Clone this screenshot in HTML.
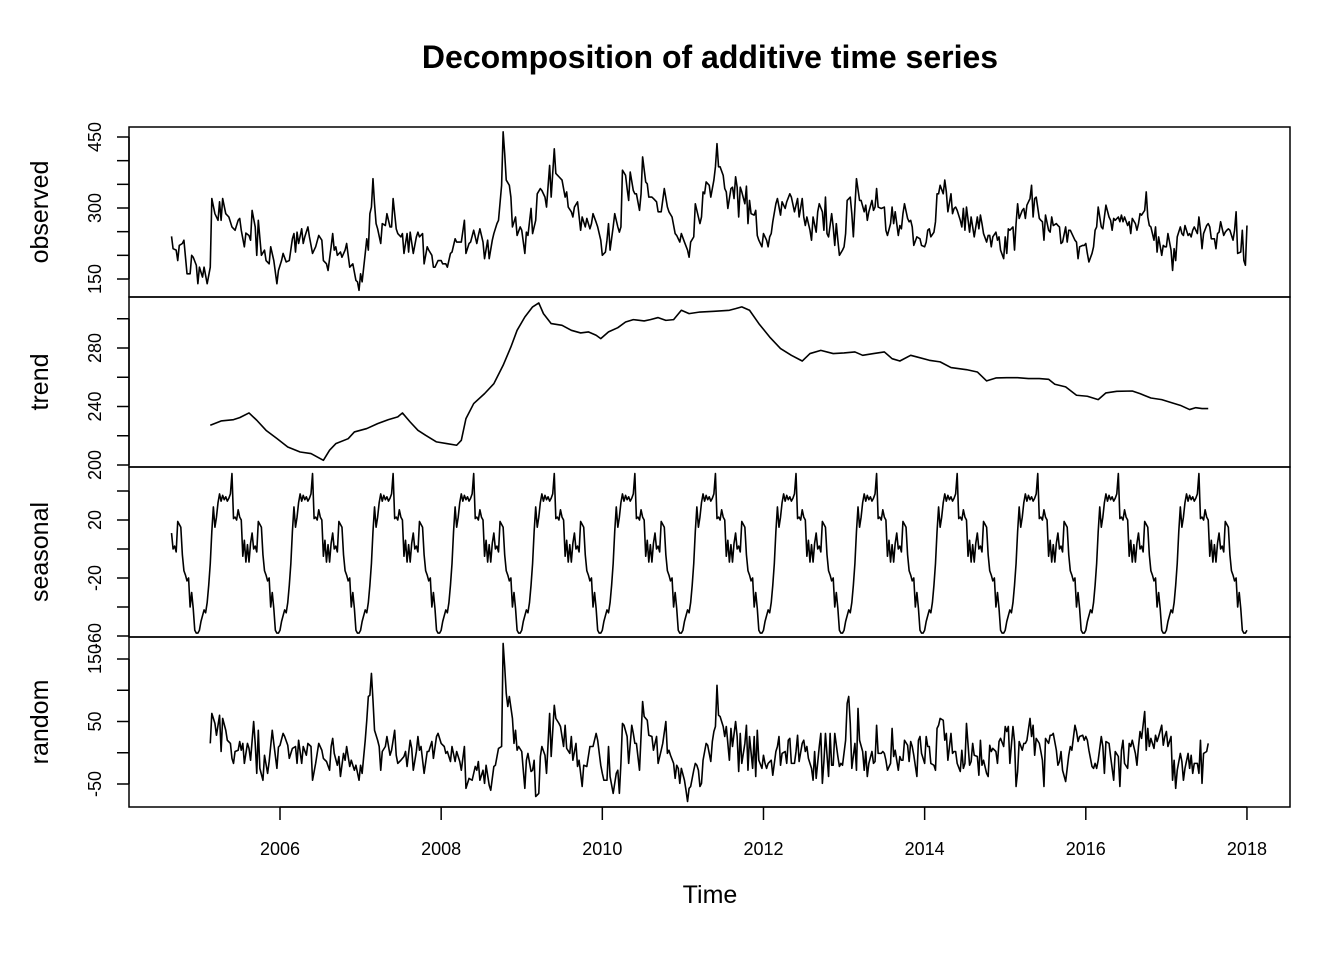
<!DOCTYPE html>
<html><head><meta charset="utf-8"><title>Decomposition of additive time series</title>
<style>html,body{margin:0;padding:0;background:#fff}svg{display:block}text{font-family:"Liberation Sans",Arial,sans-serif;fill:#000}</style>
</head><body>
<svg id="chart" width="1344" height="960" viewBox="0 0 1344 960" xmlns="http://www.w3.org/2000/svg">
<rect x="0" y="0" width="1344" height="960" fill="#fff"/>
<text x="710" y="68" text-anchor="middle" font-size="32" font-weight="bold">Decomposition of additive time series</text>
<text x="710" y="903" text-anchor="middle" font-size="25">Time</text>
<g id="layer"></g>
</svg>
<script>
// Time: weekly series (frequency 52) starting at week 34 of 2004
const startYear = 2004, startWeekOfYear = 34, nObserved = 695;
const xTicks = [2006, 2008, 2010, 2012, 2014, 2016, 2018];

const obsWeek = [0,1,3,4,5,7,8,10,12,13,14,16,17,18,20,21,23,25,26,28,30,31,32,33,35,37,39,41,43,44,45,47,48,50,51,52,54,55,56,58,60,61,63,64,66,68,69,71,72,74,76,78,79,80,81,82,84,85,86,88,89,91,93,95,97,98,100,101,103,104,105,106,107,109,110,112,113,115,117,119,120,121,122,123,125,126,127,128,129,130,131,132,133,135,136,138,139,141,142,143,145,146,148,149,150,152,153,154,156,158,159,160,162,163,165,166,168,169,170,172,174,175,177,178,180,181,183,184,185,187,189,190,192,193,195,197,198,199,201,202,204,205,207,208,210,211,213,214,215,216,218,219,220,222,223,225,226,228,229,230,232,233,235,236,238,239,241,242,244,245,247,248,250,252,254,255,256,258,259,260,262,264,265,267,268,270,271,272,274,275,277,278,280,281,282,283,285,286,288,289,290,291,293,294,295,296,298,299,300,302,303,304,306,307,308,310,311,313,314,316,318,320,321,323,325,326,328,329,331,333,334,335,337,338,339,
341,342,343,344,345,347,348,350,351,352,353,354,356,357,358,359,361,362,363,364,365,366,367,368,370,371,372,373,374,376,377,378,379,381,382,384,385,386,387,388,390,391,393,394,396,397,399,400,402,404,405,407,408,409,410,412,413,414,416,417,418,420,421,422,423,424,426,427,428,429,430,431,433,434,435,436,438,439,440,441,442,444,445,447,448,449,450,452,453,454,455,456,458,460,461,462,464,465,466,467,469,470,471,472,473,475,476,477,478,479,481,483,484,486,487,488,489,490,492,493,494,495,496,498,499,500,501,503,504,505,506,507,509,510,511,512,513,515,516,517,518,520,521,522,523,524,526,527,528,529,530,532,533,534,535,537,538,539,540,541,543,544,545,546,547,549,550,551,552,554,555,556,557,558,560,561,562,563,564,566,567,568,569,571,572,573,574,575,577,578,579,580,581,583,584,585,586,588,589,590,591,592,594,595,596,597,598,600,601,602,603,605,606,607,608,609,611,612,613,614,615,617,618,619,620,622,623,624,625,626,628,629,630,631,632,634,635,636,637,639,640,641,642,643,645,646,647,648,649,651,652,653,654,656,657,658,659,660,662,663,664,665,666,668,669,670,671,673,674,675,676,677,679,680,681,682,683,685,686,687,688,690,691,692,693,694];
const obsValue = [240,214,211,189,221,225,232,161,161,200,196,179,140,175,154,175,140,175,320,288,274,313,274,320,288,281,260,253,274,278,253,218,247,242,232,295,260,200,274,200,211,189,182,218,189,140,168,189,204,186,189,235,246,207,249,225,256,225,239,260,239,204,218,242,232,189,182,168,218,246,211,218,200,207,196,211,225,175,182,147,144,126,161,144,204,235,211,288,302,362,309,267,256,225,267,263,288,260,260,320,256,246,239,246,204,246,207,249,204,239,249,239,246,182,218,211,200,175,175,189,189,182,182,175,204,207,235,228,228,228,274,204,225,228,253,225,242,256,228,193,232,193,232,246,267,274,348,461,415,359,348,323,260,281,242,260,253,204,249,242,299,246,274,330,341,337,323,302,390,323,425,373,366,359,323,334,302,292,281,302,313,253,281,260,278,256,267,288,270,260,232,200,207,232,267,211,260,288,260,249,260,380,369,341,316,376,337,330,330,295,330,408,355,351,323,323,320,313,292,292,341,302,292,281,246,242,228,246,228,211,196,228,239,309,295,
267,281,334,330,355,348,323,359,387,436,387,387,369,341,334,299,341,344,320,366,344,281,344,334,309,346,267,316,288,285,295,242,232,218,246,232,218,239,246,271,309,320,285,313,299,313,330,323,292,320,281,320,281,263,281,253,232,281,249,292,309,292,253,323,246,239,288,260,221,267,232,200,211,218,246,316,323,288,239,302,362,316,316,292,306,274,292,316,295,302,341,302,299,302,253,242,267,302,267,292,242,263,256,288,309,278,271,274,260,221,239,235,221,218,228,253,256,239,249,271,330,330,348,330,359,334,292,330,288,299,302,295,274,260,299,253,302,249,281,260,239,281,256,285,267,246,228,242,242,218,239,249,232,239,211,193,239,204,256,253,260,211,267,309,278,295,299,278,306,320,348,281,320,323,278,274,271,232,285,253,249,281,263,267,263,260,225,228,260,228,253,253,246,232,228,193,218,221,221,225,204,186,204,218,253,260,302,260,256,281,306,281,274,253,278,274,281,271,285,271,281,263,271,246,278,267,253,267,288,285,295,334,281,263,260,232,260,207,239,200,221,218,218,246,211,168,214,189,239,260,246,242,263,242,246,239,253,260,246,281,253,214,246,263,267,260,235,235,214,246,249,271,242,249,253,256,253,232,253,292,204,207,253,189,179,263];

const trendWeek = [25,32,40,44,50,55,61,68,75,83,90,98,102,106,114,118,126,133,140,146,149,154,159,164,171,178,184,187,190,195,202,208,214,219,223,228,233,237,240,245,252,258,264,269,274,277,282,288,293,298,305,309,314,319,324,329,334,341,350,360,364,368,373,379,386,393,400,407,412,419,427,434,441,446,453,460,465,470,477,481,489,496,503,513,520,526,532,539,546,553,560,566,570,577,584,591,598,603,610,620,625,632,639,646,651,657,661,665,669];
const trendValue = [227.2,230.1,231.0,232.4,235.6,230.6,223.7,218.1,212.3,208.9,207.8,203.2,210.1,214.6,218.0,222.6,224.9,228.3,231.0,232.9,235.6,229.4,223.7,220.3,215.8,214.6,213.5,216.9,231.7,242.0,248.8,255.6,268.2,280.7,292.1,301.2,308.1,310.8,303.5,296.7,295.5,292.1,290.3,291.0,288.7,286.4,291.0,293.9,297.8,299.4,298.5,299.4,300.8,298.9,299.4,305.8,303.5,304.6,305.1,305.8,306.9,308.1,305.8,296.7,287.5,279.6,275.0,271.1,276.2,278.4,276.2,276.6,277.3,275.0,276.2,277.3,272.7,271.1,275.0,273.9,271.6,270.5,266.6,265.2,263.6,257.5,259.5,259.7,259.7,259.1,259.1,258.6,255.2,253.4,247.7,247.0,244.7,249.3,250.4,250.6,248.8,245.8,244.7,242.4,240.8,237.9,239.2,238.6,238.6];

// seasonal effect by week of year (0..51), repeats every year
const seasonalByWeek = [-56,-50,-46,-42,-44,-37,-25,-10,12,29,15,22,32,38,33,37,34,36,33,35,38,52,21,22,20,27,22,20,-5,6,-9,3,-9,4,11,0,2,-2,19,17,15,-4,-15,-18,-22,-20,-40,-30,-41,-56,-58,-58];

const randWeek = [25,26,28,29,31,32,33,35,36,38,39,40,41,43,44,45,46,47,49,50,51,53,54,55,56,57,59,60,62,63,65,66,68,69,70,72,73,75,76,78,80,81,82,84,85,87,88,90,91,93,95,97,98,100,102,103,104,105,107,108,109,111,112,113,115,116,118,119,121,122,123,125,126,127,128,129,130,131,133,134,135,136,138,139,141,142,144,145,146,148,150,151,152,154,155,156,158,159,160,161,163,165,166,168,169,171,172,174,176,177,178,180,181,183,184,186,187,189,190,192,194,196,197,198,199,201,202,203,205,206,208,209,211,213,214,215,216,217,218,220,221,222,223,224,226,227,228,229,230,232,233,234,235,237,238,239,241,242,244,245,247,248,250,251,253,254,255,257,258,259,261,262,263,265,266,268,269,270,272,274,275,277,278,279,281,282,283,285,287,288,289,290,291,292,294,295,297,298,299,300,302,304,305,307,308,310,311,313,314,316,317,319,320,321,322,324,325,326,327,328,329,331,332,333,334,335,337,338,339,340,
341,342,343,345,346,348,349,350,351,352,353,354,356,357,358,360,361,362,364,365,366,367,368,370,371,372,373,375,376,377,378,379,381,382,383,384,385,387,388,390,391,392,393,394,396,397,398,399,400,402,403,404,405,407,408,409,410,411,413,414,415,416,418,419,420,421,422,424,425,426,427,428,430,431,432,433,435,436,437,438,439,441,442,443,444,446,447,448,449,450,452,453,454,455,456,458,459,460,461,462,464,465,466,467,469,470,471,472,473,475,476,477,478,479,481,482,483,484,486,487,488,489,490,492,493,494,495,496,498,499,500,501,503,504,505,506,507,509,510,511,512,513,515,516,517,518,520,521,522,523,524,526,527,528,529,530,532,533,534,535,537,538,539,540,541,543,544,545,546,547,549,550,551,552,554,555,556,557,558,560,561,562,563,564,566,567,568,569,571,572,573,574,575,577,578,579,580,581,583,584,585,586,588,589,590,591,592,594,595,596,597,598,600,601,602,603,605,606,607,608,609,611,612,613,614,615,617,618,619,620,622,623,624,625,626,628,629,630,631,632,634,635,636,637,639,640,641,642,643,645,646,647,648,649,651,652,653,654,656,657,658,659,660,662,663,664,665,666,668,669];
const randValue = [15,63,47,28,60,2,55,36,20,15,-9,-17,2,4,18,4,15,-17,15,7,-12,50,15,-33,36,-25,-44,-4,-33,-14,36,15,-25,9,12,31,26,12,-9,7,10,-17,20,-17,10,-4,15,10,-44,-17,15,4,-9,-14,-28,10,23,-1,-20,-6,-38,-1,-12,10,-22,-12,-28,-20,-44,-20,-33,20,52,90,92,127,84,36,20,10,-28,2,10,26,-4,4,36,-4,-17,-12,-6,2,-22,20,7,-28,2,26,4,10,-33,2,2,18,-9,26,31,15,10,-1,2,-14,10,-14,2,-14,-28,10,-57,-41,-44,-22,-28,-14,-44,-28,-49,-20,-52,-60,-22,-20,7,10,175,138,95,74,90,55,15,36,4,10,2,-28,-57,-12,-1,-30,-28,-12,-70,-65,-6,10,-4,-33,63,-6,76,55,47,42,10,44,7,-1,26,-12,15,-22,-12,-54,-20,-22,-6,10,10,31,20,-20,-33,-44,-44,10,-38,-65,-33,-28,-65,-17,47,44,26,-17,44,31,15,15,-28,82,58,52,28,26,4,26,-17,4,15,50,-1,4,-4,-17,-41,-20,-25,-49,-25,-44,-60,-78,-57,-54,-28,-17,-20,-28,
-54,-49,-12,15,12,-14,18,34,42,108,60,58,42,26,42,-12,39,10,50,26,-30,31,-17,15,44,-28,26,-25,26,-38,36,-12,-25,-4,-17,-25,-17,-12,-36,2,10,26,-20,-1,2,-17,20,23,-17,-17,2,28,-14,15,20,2,10,-9,-25,-44,2,-41,10,31,-49,-14,31,-38,31,-20,-20,31,-6,-22,-17,-20,20,79,90,47,-25,15,-28,71,20,2,-28,2,-38,-17,2,-17,-14,44,-1,-1,2,-1,-12,-28,-17,39,-6,4,-28,-6,-12,-12,20,12,-14,18,10,-4,-38,20,26,-1,-17,26,10,10,-17,-20,-28,39,44,55,52,20,31,-12,31,-1,2,2,-17,-30,4,-25,-17,47,-20,-14,15,-4,-6,-36,20,-20,-12,-33,-38,12,2,7,2,-17,18,23,10,42,34,42,-17,42,18,-54,-30,18,4,15,15,20,55,26,44,-4,23,15,2,-12,-54,23,15,28,28,31,4,-20,-14,2,-28,-46,-25,-4,10,4,44,34,18,26,28,20,26,20,4,-22,-25,-17,-25,-12,26,10,-33,18,15,-6,-25,-44,2,-6,-54,4,20,-17,-25,15,10,20,-1,-20,10,34,23,66,4,39,10,23,7,28,18,26,44,12,26,34,10,26,-44,-12,-57,-28,-1,-14,-44,-25,-1,-25,-4,-33,-17,-17,-33,20,-49,-1,2,15];

// axis definitions
const obsTicks = [150,200,250,300,350,400,450], obsLabels = [150,300,450];
const trendTicks = [200,220,240,260,280,300], trendLabels = [200,240,280];
const seasTicks = [-60,-40,-20,0,20,40], seasLabels = [-60,-20,20];
const randTicks = [-50,0,50,100,150], randLabels = [-50,50,150];

const NS = 'http://www.w3.org/2000/svg';
const layer = document.getElementById('layer');
const L = 129, R = 1290;
const T0 = startYear + startWeekOfYear / 52;
const xYear = t => 280 + (t - 2006) * 80.58;
const xWeek = w => xYear(T0 + w / 52);

function mk(tag, attrs) {
  const e = document.createElementNS(NS, tag);
  for (const k in attrs) e.setAttribute(k, attrs[k]);
  layer.appendChild(e);
  return e;
}

const panels = [
  {name:'observed', top:127, bot:297, y:v => 279 - (v - 150) * 0.47333, ticks:obsTicks, labels:obsLabels},
  {name:'trend', top:297, bot:467, y:v => 465 - (v - 200) * 1.4625, ticks:trendTicks, labels:trendLabels},
  {name:'seasonal', top:467, bot:637, y:v => 549 - v * 1.45, ticks:seasTicks, labels:seasLabels},
  {name:'random', top:637, bot:807, y:v => 752.75 - v * 0.625, ticks:randTicks, labels:randLabels}
];

function linePath(ws, vs, yf) {
  let d = '';
  for (let i = 0; i < ws.length; i++) d += (i ? 'L' : 'M') + xWeek(ws[i]).toFixed(2) + ',' + yf(vs[i]).toFixed(2);
  return d;
}

panels.forEach(p => {
  const box = mk('rect', {x:L, y:p.top, width:R - L, height:p.bot - p.top, fill:'none', stroke:'#000', 'stroke-width':1.5});
  
  
  const y0 = p.y(p.ticks[0]), y1 = p.y(p.ticks[p.ticks.length - 1]);
  const ax = mk('line', {x1:L, x2:L, y1:y0, y2:y1, stroke:'#000', 'stroke-width':1.5});
  
  
  p.ticks.forEach(v => {
    const tk = mk('line', {x1:L - 12, x2:L, y1:p.y(v), y2:p.y(v), stroke:'#000', 'stroke-width':1.5});
    
    
  });
  p.labels.forEach(v => {
    const yy = p.y(v);
    const t = mk('text', {x:0, y:0, 'text-anchor':'middle', 'font-size':18, transform:'translate(101,' + yy.toFixed(1) + ') rotate(-90)'});
    t.textContent = String(v);
    
    
  });
  const tt = mk('text', {x:0, y:0, 'text-anchor':'middle', 'font-size':25, transform:'translate(48,' + ((p.top + p.bot) / 2).toFixed(1) + ') rotate(-90)'});
  tt.textContent = p.name;
  
  
});

// series
const seasWeek = [], seasValue = [];
for (let i = 0; i < nObserved; i++) { seasWeek.push(i); seasValue.push(seasonalByWeek[(i + startWeekOfYear) % 52]); }

const series = [
  [obsWeek, obsValue, panels[0], 'observed-line'],
  [trendWeek, trendValue, panels[1], 'trend-line'],
  [seasWeek, seasValue, panels[2], 'seasonal-line'],
  [randWeek, randValue, panels[3], 'random-line']
];
series.forEach(s => {
  const pth = mk('path', {d:linePath(s[0], s[1], s[2].y), fill:'none', stroke:'#000', 'stroke-width':1.6, 'stroke-linejoin':'round'});
  
  
});

// x axis
const xa = mk('line', {x1:xYear(xTicks[0]), x2:xYear(xTicks[xTicks.length - 1]), y1:807, y2:807, stroke:'#000', 'stroke-width':1.5});


xTicks.forEach(yr => {
  const tk = mk('line', {x1:xYear(yr), x2:xYear(yr), y1:807, y2:820, stroke:'#000', 'stroke-width':1.5});
  
  
  const t = mk('text', {x:xYear(yr), y:855, 'text-anchor':'middle', 'font-size':18});
  t.textContent = yr;
  
  
});
</script>
</body></html>
